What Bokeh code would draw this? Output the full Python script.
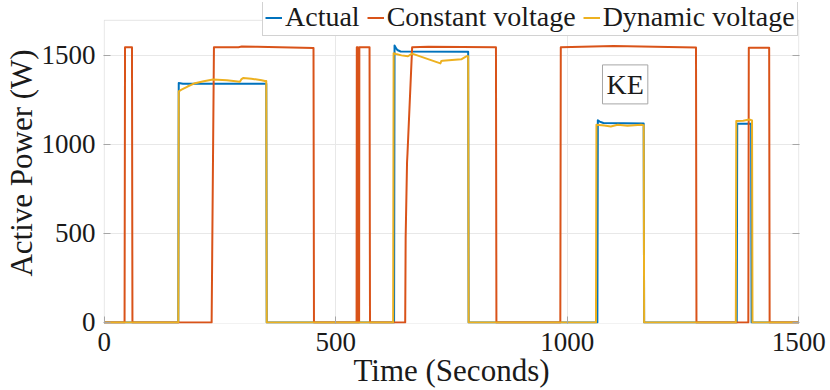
from bokeh.plotting import figure
from bokeh.models import Range1d, LinearAxis, FixedTicker, Legend, LegendItem, Label, BoxAnnotation
from bokeh.embed import file_html
from bokeh.resources import INLINE

FONT = "Liberation Serif"

x_ticks = [0, 500, 1000, 1500]
y_ticks = [0, 500, 1000, 1500]
x_limits = (0, 1500)
y_limits = (-6, 1697)

# Actual
actual_t = [0, 160, 161, 170, 350, 351,
            626, 627, 629, 633, 640, 786, 787,
            1065, 1066, 1070, 1078, 1165, 1166,
            1366, 1367, 1397, 1398, 1500]
actual_v = [0, 0, 1345, 1341, 1340, 0,
            0, 1556, 1545, 1530, 1522, 1520, 0,
            0, 1135, 1128, 1120, 1117, 0,
            0, 1116, 1116, 0, 0]

# Constant voltage
const_t = [0, 44, 45, 60, 61,
           232, 237, 290, 297, 330, 452, 453,
           545, 545.5, 547.5, 548, 550.5, 551, 573, 574,
           650, 651, 654, 655, 665, 700, 846, 847,
           985, 986, 1100, 1278, 1279,
           1391, 1392, 1436, 1437, 1500]
const_v = [0, 0, 1545, 1545, 0,
           0, 1545, 1546, 1550, 1548, 1542, 0,
           0, 1545, 1545, 0, 0, 1545, 1545, 0,
           0, 480, 900, 950, 1545, 1549, 1545, 0,
           0, 1545, 1552, 1544, 0,
           0, 1543, 1543, 0, 0]

# Dynamic voltage
dyn_t = [0, 160, 161, 167, 180, 196, 215, 235, 265, 293, 296, 300, 318, 340, 347, 350, 351,
         624, 625, 630, 642, 656, 665, 726, 728, 731, 771, 782, 786, 787,
         1062, 1063, 1080, 1094, 1109, 1130, 1160, 1165, 1166,
         1364, 1365, 1380, 1393, 1399, 1400, 1500]
dyn_v = [0, 0, 1298, 1307, 1325, 1344, 1355, 1365, 1360, 1352, 1365, 1373, 1369, 1360, 1356, 1356, 0,
         0, 1512, 1508, 1500, 1495, 1510, 1455, 1468, 1470, 1478, 1495, 1495, 0,
         0, 1110, 1106, 1101, 1110, 1105, 1110, 1108, 0,
         0, 1131, 1133, 1140, 1135, 0, 0]

series_names = ["Actual", "Constant voltage", "Dynamic voltage"]
colors = ["#0072BD", "#D95319", "#EDB120"]

AXC = "#a6a6a6"
TXT = "#1a1a1a"

# frame extends above the axes box so the legend (which overlaps the box top) is not clipped
p = figure(width=830, height=390, output_backend="svg", toolbar_location=None,
           x_range=Range1d(-1.5, 1501.5), y_range=Range1d(-6, 1797),
           min_border_left=102, min_border_right=31, min_border_top=2, min_border_bottom=67)
p.outline_line_color = None
p.background_fill_color = "white"

for ax in (p.xaxis[0], p.yaxis[0]):
    ax.axis_line_color = None
    ax.major_tick_line_color = AXC
    ax.major_tick_in = 7
    ax.major_tick_out = 0
    ax.minor_tick_line_color = None
    ax.major_label_text_font = FONT
    ax.major_label_text_font_size = "27px"
    ax.major_label_text_color = TXT
    ax.axis_label_text_font = FONT
    ax.axis_label_text_font_size = "31px"
    ax.axis_label_text_font_style = "normal"
    ax.axis_label_text_color = TXT

p.xaxis.ticker = FixedTicker(ticks=x_ticks)
p.yaxis.ticker = FixedTicker(ticks=y_ticks)
p.xaxis.bounds = x_limits
p.yaxis.bounds = y_limits
p.xaxis.axis_label = "Time (Seconds)"
p.yaxis.axis_label = "Active Power (W)"
p.xaxis.major_label_standoff = 9
p.yaxis.major_label_standoff = 8
p.xaxis.axis_label_standoff = -1
p.yaxis.axis_label_standoff = 0

right = LinearAxis(ticker=FixedTicker(ticks=y_ticks), bounds=y_limits,
                   major_label_overrides={t: "" for t in y_ticks},
                   major_tick_in=7, major_tick_out=0, minor_tick_line_color=None,
                   axis_line_color=None, major_tick_line_color=AXC, major_label_standoff=0)
p.add_layout(right, "right")

p.xgrid.ticker = FixedTicker(ticks=[500, 1000])
p.ygrid.ticker = FixedTicker(ticks=[500, 1000, 1500])
p.xgrid.grid_line_color = "#e8e8e8"
p.ygrid.grid_line_color = "#e8e8e8"

box = BoxAnnotation(left=x_limits[0], right=x_limits[1], bottom=y_limits[0], top=y_limits[1],
                    fill_alpha=0, fill_color=None, line_color=AXC, line_width=1, level="underlay")
p.add_layout(box)

renderers = []
for t, v, c in [(actual_t, actual_v, colors[0]), (const_t, const_v, colors[1]), (dyn_t, dyn_v, colors[2])]:
    r = p.line(t, v, line_color=c, line_width=2, line_join="round")
    renderers.append(r)

legend = Legend(items=[LegendItem(label=n, renderers=[r]) for n, r in zip(series_names, renderers)],
                orientation="horizontal", location=(159, 287),
                label_text_font=FONT, label_text_font_size="28px", label_text_color=TXT,
                glyph_width=17, glyph_height=27, label_height=27, label_standoff=3,
                spacing=7, padding=2, margin=0,
                border_line_color=AXC, background_fill_color="white", background_fill_alpha=1)
p.add_layout(legend)

ke = Label(x=1125, y=1337, text="KE", text_align="center", text_baseline="middle",
           text_font=FONT, text_font_size="28px", text_color=TXT,
           border_line_color=AXC, background_fill_color="white", padding=4)
p.add_layout(ke)

open("out.html", "w").write(file_html(p, INLINE))
